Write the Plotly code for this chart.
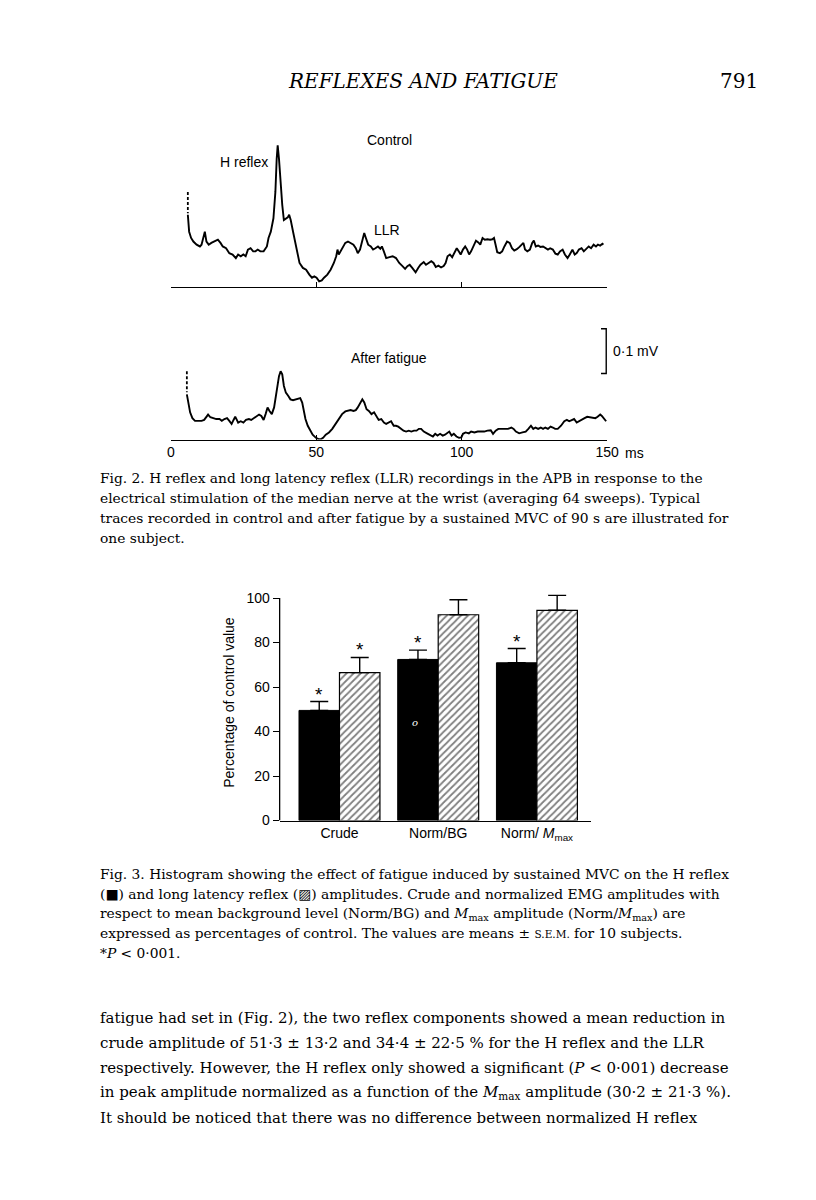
import plotly.graph_objects as go

# ---------------- Fig. 2 data: time (ms) and amplitude (mV above the time axis) ----------------
control_t = [5.85, 6.30, 6.97, 7.75, 8.87, 10.00, 10.56, 11.12, 11.69, 12.25,
             13.03, 13.93, 15.06, 16.18, 17.08, 17.86, 18.99, 20.11, 21.23, 22.36,
             23.14, 24.04, 24.94, 25.73, 26.51, 27.41, 28.31, 29.10, 29.88, 30.78,
             31.90, 33.03, 33.59, 34.38, 35.28, 35.95, 36.40, 36.74, 37.19, 37.75,
             38.31, 38.87, 39.54, 40.21, 40.68, 41.22, 42.03, 42.70, 43.48, 44.25,
             45.40, 46.51, 47.62, 48.53, 49.31, 50.12, 51.00, 51.90, 52.68, 53.81,
             54.94, 56.05, 56.86, 57.30, 57.74, 58.31, 59.08, 59.99, 60.90, 61.78,
             62.79, 63.60, 64.27, 65.05, 65.82, 66.50, 67.07, 67.85, 68.76, 69.53,
             70.34, 71.22, 72.03, 72.57, 73.24, 74.05, 75.16, 76.28, 77.41, 78.53,
             79.65, 80.55, 81.33, 82.13, 83.01, 84.16, 85.04, 85.84, 86.96, 87.73,
             88.64, 89.55, 90.33, 91.10, 92.01, 92.92, 93.80, 94.47, 95.15, 95.95,
             96.73, 97.64, 98.31, 98.99, 99.66, 100.44, 101.21, 101.89, 102.56, 103.24,
             104.15, 104.92, 105.73, 106.40, 107.18, 107.96, 108.86, 109.77, 110.55, 111.12,
             111.66, 112.23, 113.14, 113.92, 114.69, 115.60, 116.51, 117.29, 118.07, 118.97,
             119.88, 120.66, 121.22, 121.78, 122.57, 123.46, 124.25, 124.81, 125.48, 126.29,
             127.06, 127.97, 128.85, 129.66, 130.43, 131.34, 132.22, 133.03, 133.80, 134.71,
             135.49, 136.40, 137.17, 138.08, 138.86, 139.54, 140.31, 141.22, 141.99, 142.80,
             143.68, 144.49, 145.37, 146.18, 146.85, 147.62, 148.40, 148.73]
control_mv = [0.162, 0.124, 0.110, 0.102, 0.095, 0.091, 0.095, 0.110, 0.124, 0.102,
              0.095, 0.099, 0.102, 0.106, 0.099, 0.091, 0.087, 0.076, 0.073, 0.065,
              0.073, 0.069, 0.073, 0.069, 0.084, 0.087, 0.080, 0.080, 0.084, 0.080,
              0.080, 0.091, 0.110, 0.124, 0.154, 0.213, 0.287, 0.317, 0.287, 0.228,
              0.184, 0.150, 0.154, 0.156, 0.162, 0.150, 0.124, 0.102, 0.080, 0.054,
              0.043, 0.039, 0.028, 0.021, 0.024, 0.021, 0.013, 0.015, 0.021, 0.028,
              0.039, 0.054, 0.069, 0.084, 0.073, 0.080, 0.091, 0.099, 0.102, 0.099,
              0.095, 0.087, 0.076, 0.084, 0.102, 0.121, 0.110, 0.095, 0.091, 0.084,
              0.087, 0.091, 0.086, 0.091, 0.080, 0.065, 0.067, 0.069, 0.065, 0.054,
              0.047, 0.041, 0.047, 0.050, 0.043, 0.033, 0.043, 0.050, 0.056, 0.050,
              0.054, 0.058, 0.054, 0.045, 0.048, 0.044, 0.047, 0.054, 0.069, 0.073,
              0.067, 0.080, 0.087, 0.080, 0.073, 0.084, 0.091, 0.084, 0.073, 0.080,
              0.095, 0.104, 0.100, 0.095, 0.110, 0.106, 0.107, 0.106, 0.107, 0.110,
              0.095, 0.078, 0.076, 0.080, 0.091, 0.102, 0.099, 0.087, 0.082, 0.085,
              0.090, 0.095, 0.099, 0.084, 0.080, 0.084, 0.099, 0.104, 0.091, 0.093,
              0.090, 0.091, 0.087, 0.084, 0.087, 0.084, 0.075, 0.073, 0.080, 0.084,
              0.073, 0.065, 0.073, 0.084, 0.073, 0.076, 0.084, 0.087, 0.080, 0.085,
              0.091, 0.087, 0.095, 0.091, 0.095, 0.093, 0.097, 0.095]

fatigue_t = [5.51, 6.07, 6.63, 7.42, 8.31, 9.44, 10.56, 11.46, 12.25, 12.81,
             13.60, 14.49, 15.62, 16.74, 17.53, 18.43, 19.33, 20.11, 20.90, 21.57,
             22.14, 22.70, 23.15, 24.04, 24.94, 25.84, 26.85, 27.64, 28.54, 29.44,
             30.34, 31.12, 31.91, 32.58, 33.26, 33.93, 34.72, 35.51, 36.40, 37.19,
             37.75, 38.31, 38.88, 39.55, 40.34, 41.12, 42.02, 42.92, 43.71, 44.49,
             45.17, 45.73, 46.29, 47.08, 47.86, 48.76, 49.89, 50.79, 51.68, 52.36,
             53.26, 54.38, 55.51, 56.63, 57.75, 58.88, 60.00, 60.90, 61.80, 62.81,
             63.60, 64.27, 65.06, 65.84, 66.52, 67.30, 68.09, 68.99, 69.89, 70.67,
             71.46, 72.36, 73.26, 74.05, 74.83, 75.73, 76.63, 77.42, 78.20, 79.10,
             80.00, 80.90, 81.80, 82.70, 83.60, 84.49, 85.28, 86.07, 86.97, 88.09,
             89.21, 90.11, 90.90, 91.69, 92.58, 93.48, 94.27, 95.06, 95.73, 96.52,
             97.30, 98.20, 99.10, 99.89, 100.45, 101.35, 102.47, 103.26, 104.38, 105.51,
             106.63, 107.75, 108.88, 110.00, 110.79, 111.69, 112.59, 113.71, 114.83, 115.96,
             117.08, 117.86, 118.65, 119.77, 120.90, 122.02, 122.92, 123.82, 124.61, 125.39,
             126.29, 127.19, 127.97, 128.76, 129.66, 130.56, 131.34, 132.13, 133.03, 134.16,
             135.28, 136.18, 136.97, 137.75, 138.65, 139.55, 140.45, 141.46, 142.25, 143.15,
             144.27, 145.17, 145.96, 146.74, 147.64, 148.20, 148.99, 149.66]
fatigue_mv = [0.101, 0.079, 0.061, 0.048, 0.042, 0.042, 0.042, 0.044, 0.050, 0.056,
              0.050, 0.048, 0.046, 0.046, 0.042, 0.046, 0.048, 0.042, 0.035, 0.044,
              0.051, 0.044, 0.038, 0.041, 0.038, 0.044, 0.046, 0.044, 0.048, 0.053,
              0.056, 0.053, 0.044, 0.057, 0.072, 0.064, 0.057, 0.072, 0.113, 0.142,
              0.153, 0.146, 0.120, 0.105, 0.098, 0.090, 0.088, 0.090, 0.090, 0.093,
              0.083, 0.064, 0.046, 0.031, 0.020, 0.011, 0.004, 0.001, 0.001, 0.004,
              0.011, 0.016, 0.024, 0.035, 0.048, 0.057, 0.063, 0.064, 0.066, 0.064,
              0.066, 0.072, 0.083, 0.090, 0.083, 0.068, 0.064, 0.057, 0.061, 0.053,
              0.044, 0.046, 0.038, 0.035, 0.038, 0.041, 0.031, 0.031, 0.029, 0.024,
              0.020, 0.018, 0.020, 0.018, 0.020, 0.020, 0.024, 0.024, 0.018, 0.014,
              0.009, 0.007, 0.013, 0.009, 0.013, 0.009, 0.011, 0.016, 0.018, 0.009,
              0.013, 0.007, 0.004, 0.005, 0.013, 0.016, 0.014, 0.018, 0.016, 0.018,
              0.018, 0.018, 0.020, 0.021, 0.013, 0.020, 0.024, 0.024, 0.024, 0.024,
              0.027, 0.024, 0.018, 0.014, 0.016, 0.018, 0.024, 0.031, 0.024, 0.027,
              0.024, 0.027, 0.024, 0.027, 0.024, 0.029, 0.027, 0.024, 0.024, 0.031,
              0.041, 0.044, 0.041, 0.044, 0.046, 0.038, 0.042, 0.046, 0.048, 0.051,
              0.050, 0.050, 0.048, 0.051, 0.056, 0.053, 0.046, 0.041]

# stimulus artefact (dashed) segments
stim_control_t = [5.85, 5.85]
stim_control_mv = [0.213, 0.165]
stim_fatigue_t = [5.51, 5.51]
stim_fatigue_mv = [0.153, 0.106]

time_ticks = [0, 50, 100, 150]
time_tick_labels = ["0", "50", "100", "150"]
scale_bar_mv = 0.1

# ---------------- Fig. 3 data ----------------
categories = ["Crude", "Norm/BG", "Norm/ <i>M</i><sub>max</sub>"]
h_reflex = [49.5, 72.4, 70.9]
h_reflex_sem = [4.0, 4.2, 6.4]
llr = [66.5, 92.5, 94.5]
llr_sem = [6.8, 6.7, 6.7]
h_significant = [True, True, True]
llr_significant = [True, False, False]
pct_ticks = [0, 20, 40, 60, 80, 100]

# ---------------- layout helpers ----------------
W, H = 816, 1200
def px_x(x):
    return x / W
def px_y(y):
    return 1 - y / H

SANS = "Liberation Sans"
SERIF = "DejaVu Serif"
BAR_W = 0.41
PCT_PX = 2.24  # pixels per percentage unit

fig = go.Figure()

line_style = dict(color="black", width=1.9)
dash_style = dict(color="black", width=1.8, dash="3px,2px")

fig.add_trace(go.Scatter(x=control_t, y=control_mv, mode="lines", line=line_style,
                         xaxis="x", yaxis="y", hoverinfo="skip", showlegend=False))
fig.add_trace(go.Scatter(x=stim_control_t, y=stim_control_mv, mode="lines", line=dash_style,
                         xaxis="x", yaxis="y", hoverinfo="skip", showlegend=False))
fig.add_trace(go.Scatter(x=fatigue_t, y=fatigue_mv, mode="lines", line=line_style,
                         xaxis="x2", yaxis="y2", hoverinfo="skip", showlegend=False))
fig.add_trace(go.Scatter(x=stim_fatigue_t, y=stim_fatigue_mv, mode="lines", line=dash_style,
                         xaxis="x2", yaxis="y2", hoverinfo="skip", showlegend=False))

# 0.1 mV calibration bar (bottom panel coordinates)
SB_T = 149.7
SB_BASE = 0.148
SB_TIP = 1.8
fig.add_trace(go.Scatter(x=[SB_T - SB_TIP, SB_T, SB_T, SB_T - SB_TIP],
                         y=[SB_BASE + scale_bar_mv, SB_BASE + scale_bar_mv, SB_BASE, SB_BASE],
                         mode="lines", line=dict(color="black", width=1.4), cliponaxis=False,
                         xaxis="x2", yaxis="y2", hoverinfo="skip", showlegend=False))

# Fig. 3 bars
xs = list(range(len(categories)))
fig.add_trace(go.Bar(x=xs, y=h_reflex, width=BAR_W, offset=-BAR_W,
                     marker=dict(color="black", line=dict(color="black", width=1)),
                     error_y=dict(type="data", symmetric=False, array=h_reflex_sem,
                                  arrayminus=[0] * len(xs), color="black", thickness=1.4, width=9),
                     xaxis="x3", yaxis="y3", hoverinfo="skip", showlegend=False))
fig.add_trace(go.Bar(x=xs, y=llr, width=BAR_W, offset=0,
                     marker=dict(color="white", line=dict(color="black", width=1.2),
                                 pattern=dict(shape="/", fgcolor="black", bgcolor="white",
                                              size=5, solidity=0.35)),
                     error_y=dict(type="data", symmetric=False, array=llr_sem,
                                  arrayminus=[0] * len(xs), color="black", thickness=1.4, width=9),
                     xaxis="x3", yaxis="y3", hoverinfo="skip", showlegend=False))

annotations = []
# significance asterisks
for i in xs:
    if h_significant[i]:
        annotations.append(dict(x=i - BAR_W / 2, y=h_reflex[i] + h_reflex_sem[i], xref="x3", yref="y3",
                                text="*", showarrow=False, yanchor="bottom", yshift=-5,
                                font=dict(family=SANS, size=19, color="black")))
    if llr_significant[i]:
        annotations.append(dict(x=i + BAR_W / 2, y=llr[i] + llr_sem[i], xref="x3", yref="y3",
                                text="*", showarrow=False, yanchor="bottom", yshift=-5,
                                font=dict(family=SANS, size=19, color="black")))
# small scanning mark inside the Norm/BG black bar
annotations.append(dict(x=1 - 0.23, y=44, xref="x3", yref="y3", text="<i>o</i>", showarrow=False,
                        font=dict(family=SERIF, size=10, color="white")))

def text_at(x, y, text, size, family=SANS, xanchor="center", color="black"):
    annotations.append(dict(x=px_x(x), y=px_y(y), xref="paper", yref="paper", text=text,
                            showarrow=False, xanchor=xanchor, yanchor="middle",
                            font=dict(family=family, size=size, color=color)))

# running head
text_at(419, 73, "<i>REFLEXES AND FATIGUE</i>", 20, SERIF)
text_at(742, 73, "791", 20, SERIF)

# Fig. 2 labels
text_at(385, 133, "Control", 14)
text_at(237, 155, "H reflex", 14)
text_at(383, 223, "LLR", 14)
text_at(385, 352, "After fatigue", 14)
text_at(611, 345, "0·1 mV", 14, xanchor="left")
text_at(623, 448, "ms", 14, xanchor="left")

# captions and body text
LEFT = 88
fig2_caption = [
    "Fig. 2. H reflex and long latency reflex (LLR) recordings in the APB in response to the",
    "electrical stimulation of the median nerve at the wrist (averaging 64 sweeps). Typical",
    "traces recorded in control and after fatigue by a sustained MVC of 90 s are illustrated for",
    "one subject.",
]
for k, line in enumerate(fig2_caption):
    text_at(LEFT, 473 + 20.3 * k, line, 13.8, SERIF, xanchor="left")

fig3_caption = [
    "Fig. 3. Histogram showing the effect of fatigue induced by sustained MVC on the H reflex",
    "(■) and long latency reflex (▨) amplitudes. Crude and normalized EMG amplitudes with",
    "respect to mean background level (Norm/BG) and <i>M</i><sub>max</sub> amplitude (Norm/<i>M</i><sub>max</sub>) are",
    "expressed as percentages of control. The values are means ± <span style='font-size:10.5px'>S.E.M.</span> for 10 subjects.",
    "*<i>P</i> &lt; 0·001.",
]
for k, line in enumerate(fig3_caption):
    text_at(LEFT, 872 + 19.8 * k, line, 13.8, SERIF, xanchor="left")

body = [
    "fatigue had set in (Fig. 2), the two reflex components showed a mean reduction in",
    "crude amplitude of 51·3 ± 13·2 and 34·4 ± 22·5 % for the H reflex and the LLR",
    "respectively. However, the H reflex only showed a significant (<i>P</i> &lt; 0·001) decrease",
    "in peak amplitude normalized as a function of the <i>M</i><sub>max</sub> amplitude (30·2 ± 21·3 %).",
    "It should be noticed that there was no difference between normalized H reflex",
]
for k, line in enumerate(body):
    text_at(LEFT, 1017 + 25 * k, line, 15, SERIF, xanchor="left")

trace_x_domain = [px_x(162), px_x(607)]
bar_top_px = 818 - 106 * PCT_PX

fig.update_layout(
    width=W, height=H,
    margin=dict(l=0, r=0, t=0, b=0),
    paper_bgcolor="white", plot_bgcolor="rgba(0,0,0,0)",
    showlegend=False,
    xaxis=dict(domain=trace_x_domain, anchor="y", range=[0, 150], showline=True,
               linecolor="black", linewidth=1.1, ticks="inside", ticklen=5, tickwidth=1.1,
               tickcolor="black", tickvals=time_ticks, showticklabels=False,
               showgrid=False, zeroline=False, fixedrange=True),
    yaxis=dict(domain=[px_y(281), px_y(131)], anchor="x", range=[0, 150 / 450],
               visible=False, fixedrange=True),
    xaxis2=dict(domain=trace_x_domain, anchor="y2", range=[0, 150], showline=True,
                linecolor="black", linewidth=1.1, ticks="inside", ticklen=5, tickwidth=1.1,
                tickcolor="black", tickvals=time_ticks, ticktext=time_tick_labels,
                tickfont=dict(family=SANS, size=14, color="black"),
                showgrid=False, zeroline=False, fixedrange=True),
    yaxis2=dict(domain=[px_y(434.5), px_y(284.5)], anchor="x2", range=[0, 150 / 450],
                visible=False, fixedrange=True),
    xaxis3=dict(domain=[px_x(273), px_x(590.4)], anchor="y3", range=[-0.606, 2.546],
                tickvals=xs, ticktext=categories, ticks="", showline=True,
                linecolor="black", linewidth=1.3, showgrid=False, zeroline=False,
                tickfont=dict(family=SANS, size=14, color="black"), fixedrange=True),
    yaxis3=dict(domain=[px_y(818), px_y(bar_top_px)], anchor="x3", range=[0, 106],
                tickvals=pct_ticks, ticks="outside", ticklen=6, tickwidth=1.3,
                tickcolor="black", showline=False, showgrid=False, zeroline=False,
                tickfont=dict(family=SANS, size=14, color="black"),
                title=dict(text="Percentage of control value",
                           font=dict(family=SANS, size=14, color="black"), standoff=8),
                fixedrange=True),
    bargap=0.18,
    shapes=[dict(type="line", xref="x3 domain", yref="y3", x0=0, x1=0, y0=0, y1=100,
                 line=dict(color="black", width=1.3))],
    annotations=annotations,
)

fig.write_html("out.html")
